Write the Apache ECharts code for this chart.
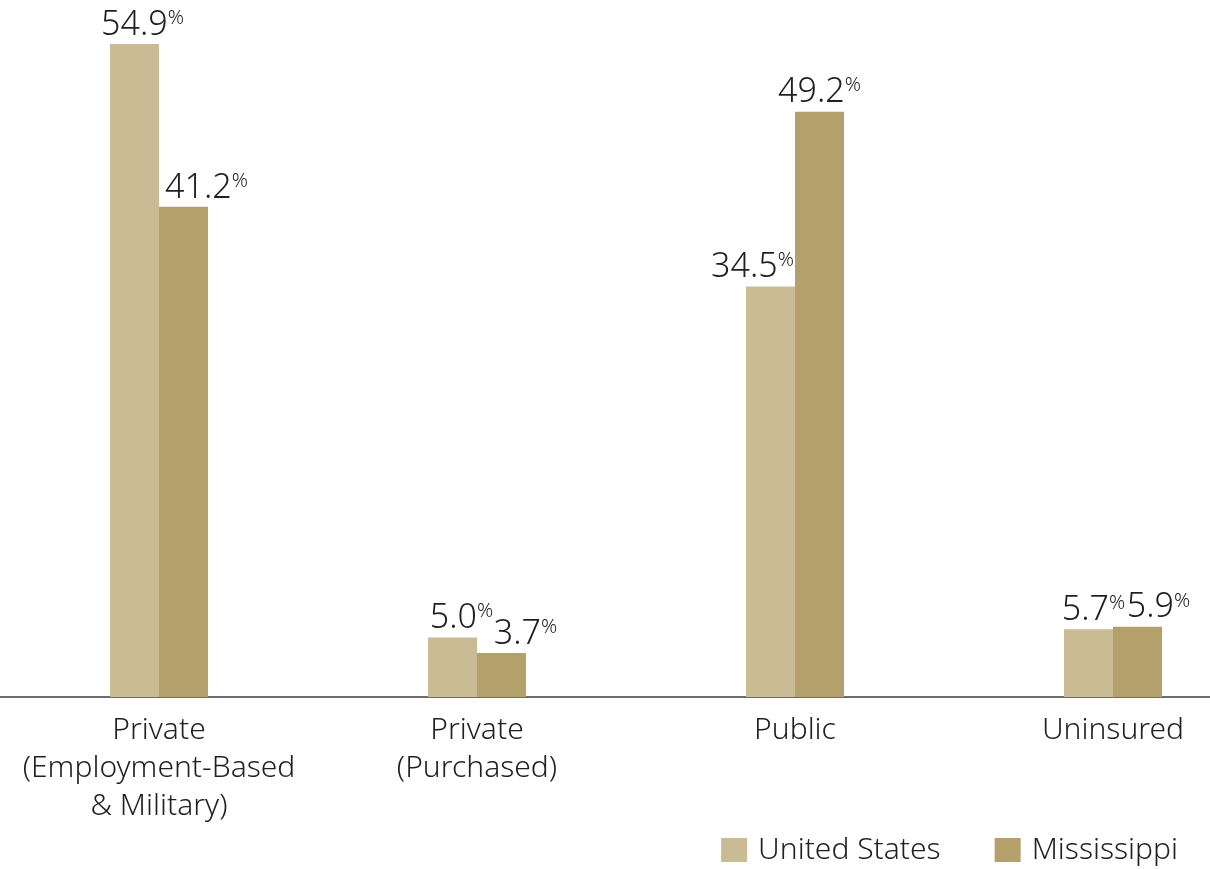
<!DOCTYPE html>
<html>
<head>
<meta charset="utf-8">
<script src="https://cdn.jsdelivr.net/npm/echarts@6/dist/echarts.min.js"></script>
<style>
  html, body { margin: 0; padding: 0; background: #fff; overflow: hidden; }
  #main { width: 1272px; height: 869px; }
</style>
</head>
<body>
<div id="main"></div>
<script>
var categories = ['Private\n(Employment-Based\n& Military)', 'Private\n(Purchased)', 'Public', 'Uninsured'];
var seriesNames = ['United States', 'Mississippi'];
var usValues = [54.9, 5.0, 34.5, 5.7];
var msValues = [41.2, 3.7, 49.2, 5.9];

// 标签水平偏移（仅样式）
var usLabelShift = [8, 9, -18, 5];
var msLabelShift = [23, 24, 0, 21];

var textColor = '#231f20';
var fontFam = '"Noto Sans", sans-serif';

// 初始化图表
var myChart = echarts.init(document.getElementById('main'));

var barLabel = {
    show: true,
    position: 'top',
    distance: 0,
    formatter: function (p) {
        return '{v|' + p.value.toFixed(1) + '}{p|%}';
    },
    rich: {
        v: { fontSize: 34, color: textColor, fontFamily: fontFam, fontWeight: 300, lineHeight: 38 },
        p: { fontSize: 20, color: textColor, fontFamily: fontFam, fontWeight: 300, lineHeight: 38, padding: [0, 0, 14, 0] }
    }
};

function buildData(values, shifts) {
    return values.map(function (v, i) {
        return { value: v, label: { offset: [shifts[i], 0] } };
    });
}

var option = {
    backgroundColor: '#ffffff',
    animation: false,
    grid: { left: 0, right: 0, top: 7, bottom: 172, containLabel: false },
    legend: {
        right: 89,
        top: 830,
        itemWidth: 26,
        itemHeight: 24,
        itemGap: 54,
        icon: 'rect',
        data: seriesNames,
        textStyle: { fontSize: 30, color: textColor, fontFamily: fontFam, fontWeight: 300, padding: [0, 0, 0, 6] }
    },
    xAxis: {
        type: 'category',
        data: categories,
        axisLine: { show: true, lineStyle: { color: '#6d6d6d', width: 2 } },
        axisTick: { show: false },
        axisLabel: { fontSize: 30, lineHeight: 38, color: textColor, fontFamily: fontFam, fontWeight: 300, margin: 14, interval: 0 }
    },
    yAxis: {
        type: 'value',
        min: 0,
        max: 58,
        show: false,
        splitLine: { show: false }
    },
    series: [
        {
            name: seriesNames[0],
            type: 'bar',
            data: buildData(usValues, usLabelShift),
            barWidth: 49,
            barGap: '0%',
            itemStyle: { color: '#c9bc94' },
            label: barLabel
        },
        {
            name: seriesNames[1],
            type: 'bar',
            data: buildData(msValues, msLabelShift),
            barWidth: 49,
            barGap: '0%',
            itemStyle: { color: '#b3a06a' },
            label: barLabel
        }
    ]
};

myChart.setOption(option);
</script>
</body>
</html>
